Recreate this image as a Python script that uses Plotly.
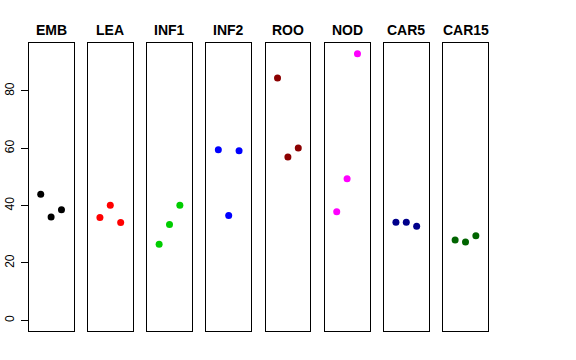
import plotly.graph_objects as go

groups = ["EMB", "LEA", "INF1", "INF2", "ROO", "NOD", "CAR5", "CAR15"]
colors = ["#000000", "#FF0000", "#00CD00", "#0000FF", "#8B0000", "#FF00FF", "#00008B", "#006400"]
rep_x = [1, 2, 3]
values = {
    "EMB": [44.0, 36.0, 38.6],
    "LEA": [35.9, 40.1, 34.1],
    "INF1": [26.5, 33.4, 40.1],
    "INF2": [59.5, 36.6, 59.1],
    "ROO": [84.5, 57.0, 60.1],
    "NOD": [37.9, 49.4, 93.0],
    "CAR5": [34.2, 34.2, 32.8],
    "CAR15": [28.0, 27.3, 29.5],
}
y_ticks = [0, 20, 40, 60, 80]

W, H = 576, 360
fig = go.Figure()
left0, pitch, width = 28.7, 59.2, 44.8
top, bottom = 43, 331
ymin, ymax = 0, 93
pad = (ymax - ymin) * 0.04

for i, g in enumerate(groups):
    n = "" if i == 0 else str(i + 1)
    xl = left0 + pitch * i
    fig.add_trace(go.Scatter(
        x=rep_x, y=values[g], mode="markers",
        marker=dict(color=colors[i], size=7, line=dict(width=0)),
        xaxis="x" + n, yaxis="y" + n, showlegend=False, hoverinfo="y",
    ))
    fig.layout["xaxis" + n] = dict(
        domain=[xl / W, (xl + width) / W], range=[-0.16, 4.16],
        showticklabels=False, ticks="", showgrid=False, zeroline=False,
        showline=True, mirror=True, linecolor="#000000", linewidth=1,
        anchor="y" + n, fixedrange=True, automargin=False,
    )
    ydict = dict(
        domain=[(H - bottom) / H, (H - top) / H], range=[ymin - pad, ymax + pad],
        showgrid=False, zeroline=False, showline=True, mirror=True,
        linecolor="#000000", linewidth=1, anchor="x" + n, fixedrange=True,
        automargin=False,
    )
    if i == 0:
        ydict.update(tickmode="array", tickvals=y_ticks, ticks="outside",
                     ticklen=7, tickcolor="#000000", tickangle=-90,
                     tickfont=dict(family="Liberation Sans, Arial, sans-serif", size=12, color="#000000"),
                     ticklabelstandoff=2)
    else:
        ydict.update(showticklabels=False, ticks="")
    fig.layout["yaxis" + n] = ydict
    fig.add_annotation(
        x=(xl + width / 2) / W, y=(H - 29.5) / H, xref="paper", yref="paper",
        text="<b>" + g + "</b>", showarrow=False, xanchor="center", yanchor="middle",
        font=dict(family="Liberation Sans, Arial, sans-serif", size=14, color="#000000"),
    )

fig.update_layout(
    width=W, height=H, margin=dict(l=0, r=0, t=0, b=0, autoexpand=False),
    paper_bgcolor="white", plot_bgcolor="white",
)
fig.write_html("out.html", config={"displayModeBar": False},
               post_script="document.body.style.margin='0';")
